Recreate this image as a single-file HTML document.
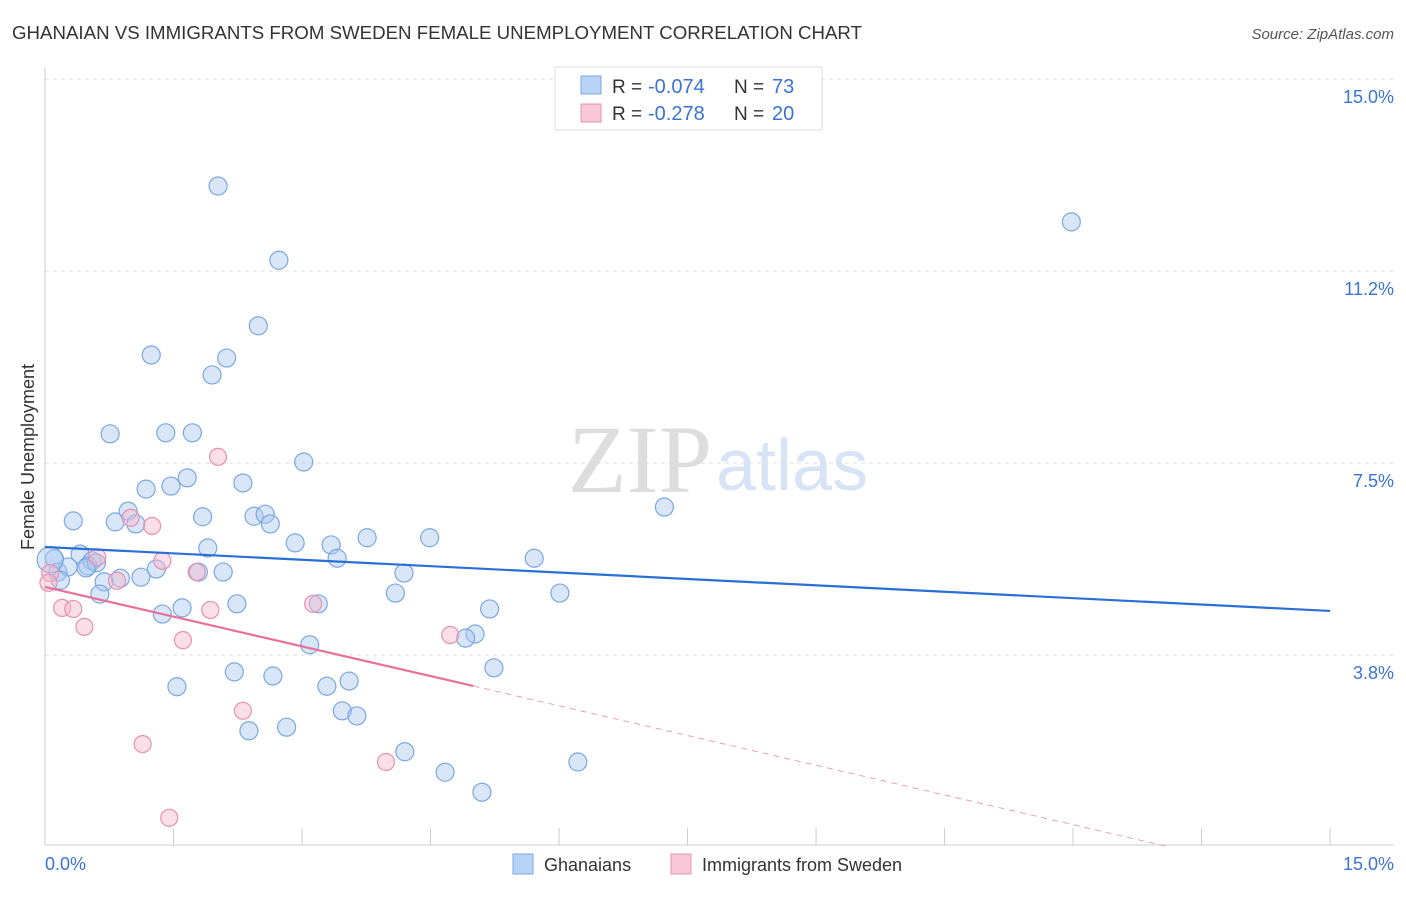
<!DOCTYPE html>
<html><head><meta charset="utf-8"><style>
body{margin:0;background:#fff;width:1406px;height:892px;overflow:hidden;font-family:"Liberation Sans",sans-serif}
</style></head><body>
<svg id="chart" width="1406" height="892" xmlns="http://www.w3.org/2000/svg">
<text x="12" y="39" font-size="18" fill="#333" textLength="850" lengthAdjust="spacingAndGlyphs">GHANAIAN VS IMMIGRANTS FROM SWEDEN FEMALE UNEMPLOYMENT CORRELATION CHART</text>
<text x="1394" y="39" font-size="15" fill="#555" font-style="italic" text-anchor="end">Source: ZipAtlas.com</text>
<text x="712" y="492" font-size="96" fill="#ddd" text-anchor="end" font-family="Liberation Serif,serif">ZIP</text>
<text x="716" y="490" font-size="72" fill="#d6e4f5">atlas</text>
<g id="grid"></g><g id="marks"></g>
<text transform="translate(34,457) rotate(-90)" font-size="18" fill="#333" text-anchor="middle">Female Unemployment</text>
<text x="45" y="870" font-size="18" fill="#3a74d0">0.0%</text>
<text x="1394" y="870" font-size="18" fill="#3a74d0" text-anchor="end">15.0%</text>
<g>
<rect x="555" y="67" width="267" height="63" fill="#fff" stroke="#ddd"/>
<rect x="581" y="76" width="20" height="18" fill="#b8d3f5" stroke="#7aa8e0"/>
<rect x="581" y="104" width="20" height="18" fill="#f8c8d8" stroke="#e890b0"/>
<text x="612" y="93" font-size="19" fill="#333">R =</text>
<text x="648" y="93" font-size="20" fill="#3a74d0">-0.074</text>
<text x="734" y="93" font-size="19" fill="#333">N =</text>
<text x="772" y="93" font-size="20" fill="#3a74d0">73</text>
<text x="612" y="120" font-size="19" fill="#333">R =</text>
<text x="648" y="120" font-size="20" fill="#3a74d0">-0.278</text>
<text x="734" y="120" font-size="19" fill="#333">N =</text>
<text x="772" y="120" font-size="20" fill="#3a74d0">20</text>
</g>
<g>
<rect x="513" y="854" width="20" height="20" fill="#b8d3f5" stroke="#7aa8e0"/>
<text x="544" y="871" font-size="18" fill="#333">Ghanaians</text>
<rect x="671" y="854" width="20" height="20" fill="#f8c8d8" stroke="#e890b0"/>
<text x="702" y="871" font-size="18" fill="#333">Immigrants from Sweden</text>
</g>
</svg>
<script>
const yTicks=[15.0,11.25,7.5,3.75];
const yTickLabels=["15.0%","11.2%","7.5%","3.8%"];
const xTicks=[0,1.5,3,4.5,6,7.5,9,10.5,12,13.5,15];
const blueX=[2.02,2.73,11.98,2.49,1.24,2.12,1.95,0.76,1.41,1.72,3.02,1.66,2.31,1.18,1.47,7.23,0.33,0.97,0.82,1.06,1.84,2.44,2.57,2.63,2.92,3.34,3.76,4.49,1.90,5.71,3.41,0.11,0.41,0.55,0.50,0.60,0.15,0.27,0.48,0.88,1.12,1.30,1.79,2.08,4.19,0.18,0.69,0.64,4.09,6.01,2.24,1.60,3.19,5.19,1.37,5.02,4.91,3.09,5.24,2.21,2.66,1.54,3.29,3.55,3.47,3.64,2.38,2.82,4.20,6.22,4.67,5.10,0.06];
const blueY=[12.91,11.46,12.21,10.18,9.61,9.55,9.22,8.07,8.09,8.09,7.52,7.21,7.11,6.99,7.05,6.64,6.37,6.56,6.35,6.31,6.45,6.46,6.50,6.31,5.94,5.90,6.04,6.04,5.84,5.64,5.64,5.63,5.72,5.59,5.49,5.55,5.37,5.47,5.45,5.25,5.27,5.43,5.37,5.37,5.35,5.21,5.18,4.94,4.96,4.96,4.75,4.67,4.75,4.65,4.55,4.16,4.08,3.95,3.50,3.42,3.34,3.13,3.14,3.24,2.66,2.56,2.27,2.34,1.86,1.66,1.46,1.07,5.61];
const pinkX=[0.06,0.04,0.61,0.84,1.00,1.25,1.37,1.77,0.20,0.33,0.46,1.61,1.93,2.02,3.13,4.73,2.31,1.14,3.98,1.45];
const pinkY=[5.35,5.16,5.66,5.20,6.43,6.27,5.59,5.37,4.67,4.65,4.30,4.04,4.63,7.62,4.75,4.14,2.66,2.01,1.66,0.57];
const blueTrend=[5.86,-0.0833];
const pinkTrend=[5.08,-0.387];
const ns="http://www.w3.org/2000/svg";
const sx=v=>45+v*85.67, sy=v=>847-v*51.2;
function mk(tag,attrs,parent){const e=document.createElementNS(ns,tag);for(const k in attrs)e.setAttribute(k,attrs[k]);parent.appendChild(e);return e;}
const grid=document.getElementById('grid'),marks=document.getElementById('marks');
yTicks.forEach((t,i)=>{
 const l=mk('line',{x1:45,x2:1394,y1:sy(t),y2:sy(t),stroke:'#ddd','stroke-dasharray':'4,4'},grid);
 
 
 const tx=mk('text',{x:1394,y:sy(t)+24,'font-size':18,fill:'#3a74d0','text-anchor':'end'},grid);
 tx.textContent=yTickLabels[i];
 
 
});
const ax=mk('line',{x1:45,x2:45,y1:68,y2:845,stroke:'#ccc'},grid);


const bx=mk('line',{x1:45,x2:1394,y1:845,y2:845,stroke:'#ccc'},grid);


xTicks.forEach(t=>{const l=mk('line',{x1:sx(t),x2:sx(t),y1:828,y2:845,stroke:'#ccc'},grid);
 
 });
blueX.forEach((x,i)=>{const c=mk('circle',{cx:sx(x),cy:sy(blueY[i]),r:i==blueX.length-1?13:9,fill:'rgba(168,200,240,0.45)',stroke:'#7aa8e0','stroke-width':1.2},marks);
 
 });
pinkX.forEach((x,i)=>{const c=mk('circle',{cx:sx(x),cy:sy(pinkY[i]),r:8.5,fill:'rgba(245,184,204,0.45)',stroke:'#e890b0','stroke-width':1.2},marks);
 
 });
const bl=mk('line',{x1:sx(0),y1:sy(blueTrend[0]),x2:sx(15),y2:sy(blueTrend[0]+blueTrend[1]*15),stroke:'#2a6fd6','stroke-width':2.2},marks);


const pl=mk('line',{x1:sx(0),y1:sy(pinkTrend[0]),x2:sx(5),y2:sy(pinkTrend[0]+pinkTrend[1]*5),stroke:'#e8709a','stroke-width':2.2},marks);


const xe=-pinkTrend[0]/pinkTrend[1];
const pd=mk('line',{x1:sx(5),y1:sy(pinkTrend[0]+pinkTrend[1]*5),x2:sx(xe),y2:sy(0),stroke:'#e8a0b8','stroke-width':1,'stroke-dasharray':'6,5'},marks);


</script>
</body></html>
